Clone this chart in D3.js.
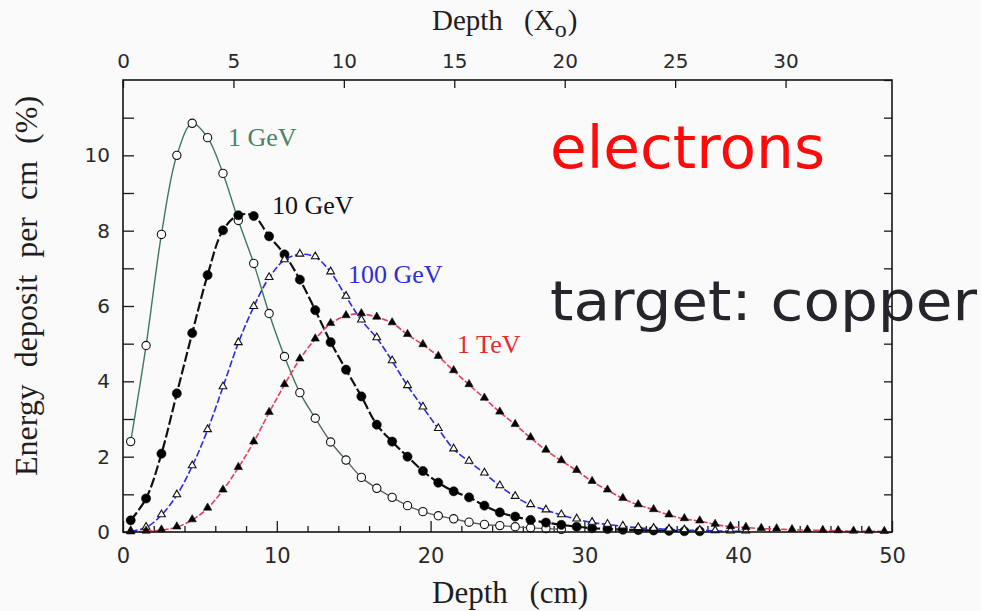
<!DOCTYPE html>
<html>
<head>
<meta charset="utf-8">
<script src="https://cdn.jsdelivr.net/npm/d3@7"></script>
<style>
  html, body { margin: 0; padding: 0; background: #f9faf9; }
  svg { display: block; }
</style>
</head>
<body>
<svg id="chart" width="981" height="611"></svg>
<script>
// Longitudinal energy deposit of electron showers in copper (X0 = 1.436 cm)

const depth1GeV = [0.5, 1.5, 2.5, 3.5, 4.5, 5.5, 6.5, 7.5, 8.5, 9.5, 10.5, 11.5, 12.5, 13.5, 14.5,
  15.5, 16.5, 17.5, 18.5, 19.5, 20.5, 21.5, 22.5, 23.5, 24.5, 25.5, 26.5, 27.5, 28.5];
const deposit1GeV = [2.4, 4.95, 7.9, 10.0, 10.85, 10.47, 9.52, 8.27, 7.13, 5.8, 4.66, 3.7, 3.02, 2.39, 1.91,
  1.45, 1.16, 0.92, 0.70, 0.54, 0.43, 0.35, 0.26, 0.20, 0.17, 0.14, 0.11, 0.09, 0.07];

const depth10GeV = [0.5, 1.5, 2.5, 3.5, 4.5, 5.5, 6.5, 7.5, 8.5, 9.5, 10.5, 11.5, 12.5, 13.5, 14.5,
  15.5, 16.5, 17.5, 18.5, 19.5, 20.5, 21.5, 22.5, 23.5, 24.5, 25.5, 26.5, 27.5, 28.5, 29.5,
  30.5, 31.5, 32.5, 33.5, 34.5, 35.5, 36.5, 37.5];
const deposit10GeV = [0.31, 0.89, 2.08, 3.68, 5.28, 6.82, 8.01, 8.41, 8.39, 7.85, 7.37, 6.70, 5.89, 5.04, 4.31,
  3.60, 2.85, 2.40, 2.00, 1.62, 1.31, 1.08, 0.92, 0.70, 0.52, 0.41, 0.32, 0.25, 0.19, 0.14,
  0.10, 0.08, 0.06, 0.05, 0.04, 0.03, 0.02, 0.02];

const depth100GeV = [0.5, 1.5, 2.5, 3.5, 4.5, 5.5, 6.5, 7.5, 8.5, 9.5, 10.5, 11.5, 12.5, 13.5, 14.5,
  15.5, 16.5, 17.5, 18.5, 19.5, 20.5, 21.5, 22.5, 23.5, 24.5, 25.5, 26.5, 27.5, 28.5, 29.5,
  30.5, 31.5, 32.5, 33.5, 34.5, 35.5, 36.5, 37.5, 38.5, 39.5, 40.5];
const deposit100GeV = [0.02, 0.12, 0.45, 0.98, 1.75, 2.71, 3.85, 5.02, 5.98, 6.75, 7.22, 7.37, 7.30, 6.90, 6.25,
  5.62, 5.15, 4.54, 3.88, 3.31, 2.74, 2.20, 1.87, 1.56, 1.22, 0.94, 0.72, 0.58, 0.45, 0.34,
  0.25, 0.20, 0.15, 0.11, 0.09, 0.07, 0.05, 0.04, 0.03, 0.02, 0.02];

const depth1TeV = [0.5, 1.5, 2.5, 3.5, 4.5, 5.5, 6.5, 7.5, 8.5, 9.5, 10.5, 11.5, 12.5, 13.5, 14.5,
  15.5, 16.5, 17.5, 18.5, 19.5, 20.5, 21.5, 22.5, 23.5, 24.5, 25.5, 26.5, 27.5, 28.5, 29.5,
  30.5, 31.5, 32.5, 33.5, 34.5, 35.5, 36.5, 37.5, 38.5, 39.5, 40.5, 41.5, 42.5, 43.5, 44.5,
  45.5, 46.5, 47.5, 48.5, 49.5];
const deposit1TeV = [0.0, 0.02, 0.05, 0.13, 0.32, 0.63, 1.11, 1.71, 2.39, 3.17, 3.91, 4.59, 5.12, 5.53, 5.74,
  5.79, 5.70, 5.55, 5.24, 4.97, 4.66, 4.28, 3.91, 3.55, 3.18, 2.85, 2.50, 2.17, 1.89, 1.63,
  1.34, 1.11, 0.89, 0.72, 0.59, 0.45, 0.35, 0.29, 0.20, 0.14, 0.12, 0.09, 0.08, 0.06, 0.05,
  0.04, 0.03, 0.02, 0.02, 0.01];

const seriesLabels = ["1 GeV", "10 GeV", "100 GeV", "1 TeV"];

const cmTicks = [0, 10, 20, 30, 40, 50];
const cmMinorTicks = [2, 4, 6, 8, 12, 14, 16, 18, 22, 24, 26, 28, 32, 34, 36, 38, 42, 44, 46, 48];
const x0Ticks = [0, 5, 10, 15, 20, 25, 30];
const yTicks = [0, 2, 4, 6, 8, 10];
const yMinorTicks = [1, 3, 5, 7, 9, 11];
const yRightTicks = [0, 1, 2, 3, 4, 5, 6, 7, 8, 9, 10, 11, 12];
const copperX0cm = 1.436;

// ---- layout ----
const svg = d3.select("#chart");
const plotLeft = 123, plotRight = 892, plotTop = 80, plotBottom = 532;

const x = d3.scaleLinear().domain([0, 50]).range([plotLeft, plotRight]);
const xX0 = d3.scaleLinear().domain([0, 50 / copperX0cm]).range([plotLeft, plotRight]);
const y = d3.scaleLinear().domain([0, 12]).range([plotBottom, plotTop]);

svg.append("rect").attr("width", 981).attr("height", 611).attr("fill", "#f9faf9");

// the 1 GeV line runs green over the peak and turns grey along the tail
const grad = svg.append("defs").append("linearGradient")
  .attr("id", "tail1GeV").attr("gradientUnits", "userSpaceOnUse")
  .attr("x1", x(0)).attr("x2", x(30)).attr("y1", 0).attr("y2", 0);
grad.append("stop").attr("offset", "0.36").attr("stop-color", "#3f7a5c");
grad.append("stop").attr("offset", "0.5").attr("stop-color", "#5d6660");

const tickFont = "'DejaVu Sans', Verdana, sans-serif";
const serif = "'Liberation Serif', 'Times New Roman', serif";

function styleAxis(g, size) {
  g.select(".domain").remove();
  g.selectAll(".tick line").attr("stroke", "#1a1a1a").attr("stroke-width", 1.3);
  g.selectAll(".tick text").attr("fill", "#2a2a2a")
    .style("font-family", tickFont).style("font-size", size + "px");
}

// bottom axis (cm)
svg.append("g").attr("transform", `translate(0,${plotBottom})`)
  .call(d3.axisBottom(x).tickValues(cmTicks).tickSizeInner(-11).tickSizeOuter(0).tickPadding(16)
    .tickFormat(d3.format("d")))
  .call(g => styleAxis(g, 21));
svg.append("g").attr("transform", `translate(0,${plotBottom})`)
  .call(d3.axisBottom(x).tickValues(cmMinorTicks).tickSizeInner(-6).tickSizeOuter(0).tickFormat(""))
  .call(g => styleAxis(g, 21));

// top axis (radiation lengths)
svg.append("g").attr("transform", `translate(0,${plotTop})`)
  .call(d3.axisTop(xX0).tickValues(x0Ticks).tickSizeInner(-8).tickSizeOuter(0).tickPadding(12)
    .tickFormat(d3.format("d")))
  .call(g => styleAxis(g, 20));

// left axis
svg.append("g").attr("transform", `translate(${plotLeft},0)`)
  .call(d3.axisLeft(y).tickValues(yTicks).tickSizeInner(-11).tickSizeOuter(0).tickPadding(13)
    .tickFormat(d3.format("d")))
  .call(g => styleAxis(g, 20));
svg.append("g").attr("transform", `translate(${plotLeft},0)`)
  .call(d3.axisLeft(y).tickValues(yMinorTicks).tickSizeInner(-11).tickSizeOuter(0).tickFormat(""))
  .call(g => styleAxis(g, 20));

// right axis
svg.append("g").attr("transform", `translate(${plotRight},0)`)
  .call(d3.axisRight(y).tickValues(yRightTicks).tickSizeInner(-8).tickSizeOuter(0).tickFormat(""))
  .call(g => styleAxis(g, 20));

// axis titles
svg.append("text")
  .attr("x", 432).attr("y", 603)
  .style("font-family", serif).style("font-size", "31px").style("word-spacing", "14px")
  .attr("fill", "#1e1e1e")
  .text("Depth (cm)");

const topTitle = svg.append("text")
  .attr("x", 432).attr("y", 30)
  .style("font-family", serif).style("font-size", "29px").style("word-spacing", "14px")
  .attr("fill", "#1e1e1e");
topTitle.append("tspan").text("Depth (X");
topTitle.append("tspan").attr("dy", 7).style("font-size", "24px").text("o");
topTitle.append("tspan").attr("dy", -7).attr("dx", 1).text(")");

svg.append("text")
  .attr("transform", "translate(37,286) rotate(-90)")
  .attr("text-anchor", "middle")
  .style("font-family", serif).style("font-size", "32px").style("word-spacing", "9px")
  .attr("fill", "#1e1e1e")
  .text("Energy deposit per cm (%)");

// ---- curves ----
const series = [
  { name: seriesLabels[0], depth: depth1GeV, value: deposit1GeV,
    stroke: "url(#tail1GeV)", width: 1.4, dash: null, marker: "circle", fill: "#ffffff",
    labelColor: "#4a8266", labelAt: [6.83, 10.24] },
  { name: seriesLabels[1], depth: depth10GeV, value: deposit10GeV,
    stroke: "#111111", width: 2.2, dash: "10,3", marker: "circle", fill: "#000000",
    labelColor: "#111111", labelAt: [9.69, 8.43] },
  { name: seriesLabels[2], depth: depth100GeV, value: deposit100GeV,
    stroke: "#2b2be6", width: 1.6, dash: "7,2.5", marker: "triangle", fill: "#ffffff",
    labelColor: "#2f2fd8", labelAt: [14.63, 6.6] },
  { name: seriesLabels[3], depth: depth1TeV, value: deposit1TeV,
    stroke: "#e6405f", width: 1.6, dash: "6,2", marker: "triangle", fill: "#000000",
    labelColor: "#e82a2a", labelAt: [21.72, 4.76] }
];

const line = d3.line()
  .x(d => x(d[0]))
  .y(d => y(d[1]))
  .curve(d3.curveCatmullRom.alpha(0.5));

const plot = svg.append("g");

series.forEach(s => {
  const pts = s.depth.map((d, i) => [d, s.value[i]]);
  plot.append("path")
    .datum(pts)
    .attr("fill", "none")
    .attr("stroke", s.stroke)
    .attr("stroke-width", s.width)
    .attr("stroke-dasharray", s.dash)
    .attr("d", line);
});

series.forEach(s => {
  const pts = s.depth.map((d, i) => [d, s.value[i]]);
  const isCircle = s.marker === "circle";
  const filled = s.fill === "#000000";
  const sym = d3.symbol()
    .type(isCircle ? d3.symbolCircle : d3.symbolTriangle)
    .size(isCircle ? (filled ? 66 : 54) : (filled ? 30 : 26));
  plot.append("g").selectAll("path")
    .data(pts)
    .join("path")
    .attr("transform", d => `translate(${x(d[0])},${y(d[1]) + (isCircle ? 0 : -0.5)})`)
    .attr("d", sym)
    .attr("fill", s.fill)
    .attr("stroke", "#111")
    .attr("stroke-width", filled ? 0.6 : 1.1);
});

series.forEach(s => {
  svg.append("text")
    .attr("x", x(s.labelAt[0])).attr("y", y(s.labelAt[1]))
    .style("font-family", serif).style("font-size", "26px")
    .attr("fill", s.labelColor)
    .text(s.name);
});

// annotations
svg.append("text")
  .attr("x", 550).attr("y", 168)
  .attr("textLength", 275).attr("lengthAdjust", "spacingAndGlyphs")
  .style("font-family", "'Comic Sans MS', 'DejaVu Sans', sans-serif").style("font-size", "58px")
  .attr("fill", "#ff0a0a")
  .text("electrons");

svg.append("text")
  .attr("x", 550).attr("y", 320)
  .attr("textLength", 427).attr("lengthAdjust", "spacingAndGlyphs")
  .style("font-family", "'Comic Sans MS', 'DejaVu Sans', sans-serif").style("font-size", "56px")
  .attr("fill", "#25252b")
  .text("target: copper");

// frame
svg.append("rect")
  .attr("x", plotLeft).attr("y", plotTop)
  .attr("width", plotRight - plotLeft).attr("height", plotBottom - plotTop)
  .attr("fill", "none").attr("stroke", "#151515").attr("stroke-width", 1.6);
</script>
</body>
</html>
